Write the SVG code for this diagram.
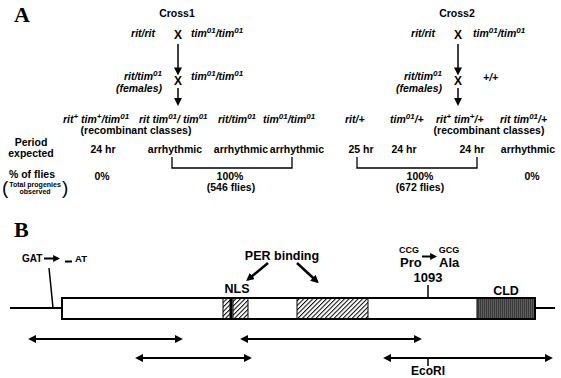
<svg xmlns="http://www.w3.org/2000/svg" width="561" height="378" viewBox="0 0 561 378">
<style>
text{font-family:"Liberation Sans",Arial,sans-serif;font-weight:bold;fill:#000}
.g{font-style:italic;font-size:10.5px}
.b{font-size:10.5px}
.m{text-anchor:middle}
.e{text-anchor:end}
.pl{font-family:"Liberation Serif","Times New Roman",serif;font-size:22px}
.x{font-size:12px}
.lb{font-size:12.5px}
.s{font-size:8px}
.ln{stroke:#000;fill:none}
</style>
<defs>
<marker id="ah" viewBox="0 0 10 10" refX="7" refY="5" markerWidth="8" markerHeight="8" markerUnits="userSpaceOnUse" orient="auto-start-reverse"><path d="M0,0 L10,5 L0,10 z"/></marker>
<marker id="ahs" viewBox="0 0 10 10" refX="7" refY="5" markerWidth="7" markerHeight="7" markerUnits="userSpaceOnUse" orient="auto-start-reverse"><path d="M0,0 L10,5 L0,10 z"/></marker>
<pattern id="hatch" patternUnits="userSpaceOnUse" width="3.2" height="3.2" patternTransform="rotate(45)"><rect width="3.2" height="3.2" fill="#fff"/><line x1="0.5" y1="0" x2="0.5" y2="3.2" stroke="#000" stroke-width="1"/></pattern>
<pattern id="cld" patternUnits="userSpaceOnUse" width="2" height="4"><rect width="2" height="4" fill="#5e5e5e"/><rect width="1" height="4" fill="#3a3a3a"/></pattern>
</defs>

<g id="labels">
<text class="pl" x="14" y="22">A</text>
<text class="pl" x="14" y="237">B</text>
</g>

<g id="cross1">
<text class="b m" x="177" y="17">Cross1</text>
<text class="g e" x="155" y="37">rit/rit</text>
<text class="x m" x="178" y="39">X</text>
<text class="g" x="191" y="37">tim<tspan class="s" dy="-4">01</tspan><tspan dy="4">/tim</tspan><tspan class="s" dy="-4">01</tspan></text>
<text class="g e" x="162" y="80">rit/tim<tspan class="s" dy="-4">01</tspan></text>
<text class="g e" x="162" y="92">(females)</text>
<text class="x m" x="178" y="85">X</text>
<text class="g" x="191" y="80">tim<tspan class="s" dy="-4">01</tspan><tspan dy="4">/tim</tspan><tspan class="s" dy="-4">01</tspan></text>
<text class="g" x="63" y="123">rit<tspan class="s" dy="-4">+</tspan><tspan dy="4"> tim</tspan><tspan class="s" dy="-4">+</tspan><tspan dy="4">/tim</tspan><tspan class="s" dy="-4">01</tspan></text>
<text class="g" x="139" y="123">rit tim<tspan class="s" dy="-4">01</tspan><tspan dy="4">/ tim</tspan><tspan class="s" dy="-4">01</tspan></text>
<text class="g" x="218" y="123">rit/tim<tspan class="s" dy="-4">01</tspan></text>
<text class="g" x="263" y="123">tim<tspan class="s" dy="-4">01</tspan><tspan dy="4">/tim</tspan><tspan class="s" dy="-4">01</tspan></text>
<text class="b m" x="136" y="134">(recombinant classes)</text>
<text class="b m" x="103" y="153">24 hr</text>
<text class="b m" x="175" y="153">arrhythmic</text>
<text class="b m" x="241" y="153">arrhythmic</text>
<text class="b m" x="297" y="153">arrhythmic</text>
<text class="b m" x="102" y="180">0%</text>
<text class="b m" x="230" y="180">100%</text>
<text class="b m" x="231" y="191">(546 flies)</text>
</g>

<g id="row-labels">
<text class="b m" x="31" y="146">Period</text>
<text class="b m" x="31" y="157">expected</text>
<text class="b m" x="32" y="178">% of flies</text>
<text x="2" y="194" style="font-size:19px;font-weight:normal">(</text>
<text x="62" y="194" style="font-size:19px;font-weight:normal">)</text>
<text class="m" x="35" y="187" style="font-size:7px">Total progenies</text>
<text class="m" x="35" y="194" style="font-size:7px">observed</text>
</g>

<g id="cross2">
<text class="b m" x="457" y="17">Cross2</text>
<text class="g e" x="435" y="37">rit/rit</text>
<text class="x m" x="458" y="39">X</text>
<text class="g" x="473" y="37">tim<tspan class="s" dy="-4">01</tspan><tspan dy="4">/tim</tspan><tspan class="s" dy="-4">01</tspan></text>
<text class="g e" x="442" y="80">rit/tim<tspan class="s" dy="-4">01</tspan></text>
<text class="g e" x="442" y="92">(females)</text>
<text class="x m" x="458" y="85">X</text>
<text class="g" x="483" y="81">+/+</text>
<text class="g" x="345" y="123">rit/+</text>
<text class="g" x="390" y="123">tim<tspan class="s" dy="-4">01</tspan><tspan dy="4">/+</tspan></text>
<text class="g" x="436" y="123">rit<tspan class="s" dy="-4">+</tspan><tspan dy="4">  tim</tspan><tspan class="s" dy="-4">+</tspan><tspan dy="4">/+</tspan></text>
<text class="g" x="500" y="123">rit tim<tspan class="s" dy="-4">01</tspan><tspan dy="4">/+</tspan></text>
<text class="b m" x="489" y="134">(recombinant classes)</text>
<text class="b m" x="361" y="153">25 hr</text>
<text class="b m" x="404" y="153">24 hr</text>
<text class="b m" x="472" y="153">24 hr</text>
<text class="b m" x="528" y="153">arrhythmic</text>
<text class="b m" x="420" y="180">100%</text>
<text class="b m" x="420" y="191">(672 flies)</text>
<text class="b m" x="532" y="180">0%</text>
</g>

<g id="gene">
<path class="ln" stroke-width="2" d="M10,308 H62 M535,308 H555"/>
<rect x="62" y="298" width="473" height="21" fill="#fff" stroke="#000" stroke-width="2"/>
<rect x="223" y="298" width="7" height="21" fill="url(#hatch)" stroke="#000" stroke-width="1"/>
<rect x="230" y="298" width="2.5" height="21" fill="#000"/>
<rect x="233" y="298" width="15" height="21" fill="url(#hatch)" stroke="#000" stroke-width="1"/>
<rect x="297" y="298" width="71" height="21" fill="url(#hatch)" stroke="#000" stroke-width="1"/>
<rect x="477" y="298" width="58" height="21" fill="url(#cld)" stroke="#000" stroke-width="1"/>
<rect x="62" y="298" width="473" height="21" fill="none" stroke="#000" stroke-width="2"/>
</g>

<g id="gene-labels">
<text x="22" y="262" style="font-size:10px">GAT</text>
<rect x="65" y="260.5" width="7" height="2"/>
<text x="75" y="262" style="font-size:9.5px">AT</text>
<text class="lb m" x="282" y="260">PER binding</text>
<text class="lb m" x="237" y="293">NLS</text>
<text class="m" x="409" y="253" style="font-size:9px">CCG</text>
<text class="m" x="449" y="253" style="font-size:9px">GCG</text>
<text x="400" y="267" style="font-size:13px">Pro</text>
<text x="439" y="267" style="font-size:13px">Ala</text>
<text class="m" x="428" y="282" style="font-size:13px">1093</text>
<text class="lb m" x="506" y="295">CLD</text>
<text class="m" x="428" y="375" style="font-size:12px">EcoRI</text>
</g>

<g id="connectors">
<line class="ln" x1="178" y1="44" x2="178" y2="73" stroke-width="1.5" marker-end="url(#ah)"/>
<line class="ln" x1="178" y1="88" x2="178" y2="103.5" stroke-width="1.5" marker-end="url(#ah)"/>
<line class="ln" x1="458" y1="44" x2="458" y2="73" stroke-width="1.5" marker-end="url(#ah)"/>
<line class="ln" x1="458" y1="88" x2="458" y2="103.5" stroke-width="1.5" marker-end="url(#ah)"/>
<path class="ln" stroke-width="1.3" d="M172,157 V168 H292 V157"/>
<path class="ln" stroke-width="1.3" d="M357,157 V168 H477 V157"/>
<line class="ln" x1="44" y1="258.5" x2="58" y2="258.5" stroke-width="2" marker-end="url(#ahs)"/>
<path class="ln" stroke-width="1.5" d="M49,268 Q51.5,292 53,308"/>
<line class="ln" x1="268" y1="263" x2="248" y2="279.5" stroke-width="2.5" marker-end="url(#ah)"/>
<line class="ln" x1="297" y1="263" x2="317" y2="281.5" stroke-width="2.5" marker-end="url(#ah)"/>
<line class="ln" x1="422" y1="256.5" x2="435" y2="256.5" stroke-width="2" marker-end="url(#ahs)"/>
<line class="ln" x1="428" y1="285" x2="428" y2="298" stroke-width="1.5"/>
<line class="ln" x1="30.5" y1="339" x2="180.5" y2="339" stroke-width="2" marker-start="url(#ah)" marker-end="url(#ah)"/>
<line class="ln" x1="242.5" y1="339" x2="419.5" y2="339" stroke-width="2" marker-start="url(#ah)" marker-end="url(#ah)"/>
<line class="ln" x1="137.5" y1="358" x2="249.5" y2="358" stroke-width="2" marker-start="url(#ah)" marker-end="url(#ah)"/>
<line class="ln" x1="385.5" y1="358" x2="550.5" y2="358" stroke-width="2" marker-start="url(#ah)" marker-end="url(#ah)"/>
<line class="ln" x1="428" y1="358" x2="428" y2="366" stroke-width="1.5"/>
</g>
</svg>
